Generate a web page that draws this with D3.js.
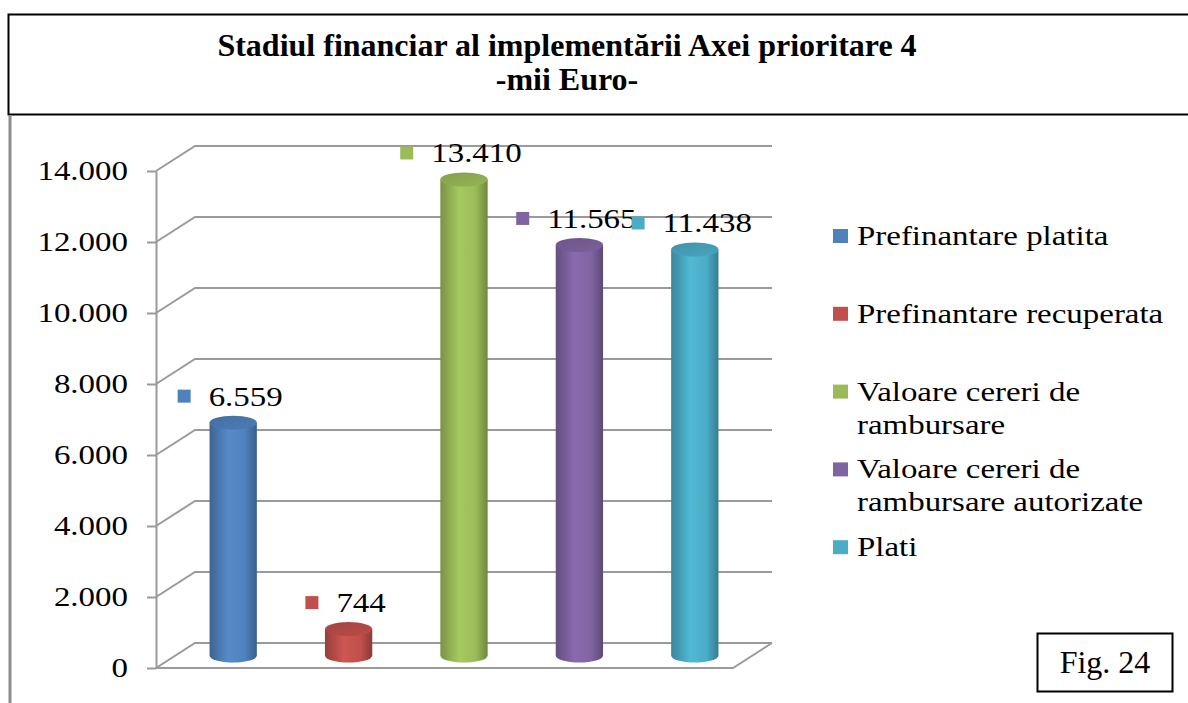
<!DOCTYPE html>
<html>
<head>
<meta charset="utf-8">
<script src="https://cdn.jsdelivr.net/npm/d3@7"></script>
<style>
	body { margin: 0; background: #fff; }
	text { font-family: "Liberation Serif", "Times New Roman", serif; fill: #000; }
	.grid { fill: none; stroke: #9a9a9a; stroke-width: 2; }
	.axis path, .axis line { stroke: #9a9a9a; stroke-width: 2; }
</style>
</head>
<body>
<svg id="chart" width="1188" height="703"></svg>
<script>
// date grafic
var categories = ["Prefinantare platita", "Prefinantare recuperata", "Valoare cereri de rambursare", "Valoare cereri de rambursare autorizate", "Plati"];
var legendLines = [["Prefinantare platita"], ["Prefinantare recuperata"], ["Valoare cereri de", "rambursare"], ["Valoare cereri de", "rambursare autorizate"], ["Plati"]];
var values = [6559, 744, 13410, 11565, 11438];
var colors = ["#4F81BD", "#C0504D", "#9BBB59", "#8064A2", "#4BACC6"];
var yTicks = [0, 2000, 4000, 6000, 8000, 10000, 12000, 14000];
var titleLines = ["Stadiul financiar al implementării Axei prioritare 4", "-mii Euro-"];
var figLabel = "Fig. 24";

var loc = d3.formatLocale({decimal: ",", thousands: ".", grouping: [3], currency: ["", ""]});
var fmt = loc.format(",d");

var svg = d3.select("#chart");
var sx = 1.22;          // textul din grafic e putin latit pe orizontala
var depthX = 39, depthY = -25;

var plotLeft = 156, plotRight = 733, plotBottom = 668, plotTop = 171;

var xScale = d3.scaleBand()
				.domain(categories)
				.range([plotLeft, plotRight]);

var yScale = d3.scaleLinear()
				.domain([0, 14000])
				.range([plotBottom, plotTop]);

// rama + titlu
svg.append("rect")
	.attr("x", 8.5).attr("y", 14.5)
	.attr("width", 1200).attr("height", 100)
	.attr("fill", "none").attr("stroke", "#000").attr("stroke-width", 2);

svg.append("line")
	.attr("x1", 10).attr("x2", 10)
	.attr("y1", 115).attr("y2", 703)
	.attr("stroke", "#8c8c8c").attr("stroke-width", 3);

svg.selectAll("text.title")
	.data(titleLines)
	.enter().append("text")
	.attr("class", "title")
	.attr("x", 567)
	.attr("y", function(d, i){return 56 + i * 34;})
	.style("text-anchor", "middle")
	.style("font-size", "32px")
	.style("font-weight", "bold")
	.text(function(d){return d;});

// perete spate + podea
var svgG = svg.append("g");

svgG.selectAll("path.grid")
	.data(yTicks)
	.enter().append("path")
	.attr("class", "grid")
	.attr("d", function(d){
		var y = yScale(d);
		return "M" + plotLeft + "," + y + "L" + (plotLeft + depthX) + "," + (y + depthY) + "L" + (plotRight + depthX) + "," + (y + depthY);
	});

svgG.append("path")
	.attr("class", "grid")
	.attr("d", "M" + plotLeft + "," + yScale(0) + "L" + plotRight + "," + yScale(0) + "L" + (plotRight + depthX) + "," + (yScale(0) + depthY));

// axa Y
var axis = svgG.append("g")
	.attr("class", "axis")
	.attr("transform", "translate(" + plotLeft + ",0)")
	.call(d3.axisLeft(yScale).tickValues(yTicks).tickFormat(fmt).tickSize(9).tickSizeOuter(0));

axis.selectAll("text")
	.style("font-size", "27px")
	.attr("x", -28 / sx)
	.attr("transform", "scale(" + sx + ",1)");

// cilindri
var defs = svg.append("defs");
colors.forEach(function(c, i){
	var base = d3.color(c);
	var g = defs.append("linearGradient").attr("id", "body" + i).attr("x1", 0).attr("x2", 1).attr("y1", 0).attr("y2", 0);
	g.append("stop").attr("offset", "0%").attr("stop-color", base.darker(0.7));
	g.append("stop").attr("offset", "40%").attr("stop-color", base.brighter(0.2));
	g.append("stop").attr("offset", "75%").attr("stop-color", base);
	g.append("stop").attr("offset", "100%").attr("stop-color", base.darker(0.9));
	var t = defs.append("linearGradient").attr("id", "top" + i).attr("x1", 0).attr("x2", 1).attr("y1", 0).attr("y2", 1);
	t.append("stop").attr("offset", "0%").attr("stop-color", base.darker(0.45));
	t.append("stop").attr("offset", "100%").attr("stop-color", base.darker(0.1));
});

var bw = xScale.bandwidth() * 0.41;
var rx = bw / 2, ry = 7;
var dataset = categories.map(function(d, i){return {cat: d, value: values[i], i: i};});

function cx(d){return xScale(d.cat) + xScale.bandwidth() / 2 + depthX / 2;}
function cy(v){return yScale(v) + depthY / 2;}

var bars = svgG.selectAll("g.bar")
	.data(dataset)
	.enter().append("g")
	.attr("class", "bar");

bars.append("path")
	.attr("fill", function(d){return "url(#body" + d.i + ")";})
	.attr("d", function(d){
		var x = cx(d), yt = cy(d.value), yb = cy(0);
		return "M" + (x - rx) + "," + yt + "L" + (x - rx) + "," + yb +
			"A" + rx + "," + ry + " 0 0 0 " + (x + rx) + "," + yb +
			"L" + (x + rx) + "," + yt + "Z";
	});

bars.append("ellipse")
	.attr("cx", cx)
	.attr("cy", function(d){return cy(d.value);})
	.attr("rx", rx).attr("ry", ry)
	.attr("fill", function(d){return "url(#top" + d.i + ")";});

// etichete valori
var lab = svgG.selectAll("g.lab")
	.data(dataset)
	.enter().append("g")
	.attr("class", "lab");

lab.append("text")
	.style("font-size", "27px")
	.attr("transform", "scale(" + sx + ",1)")
	.text(function(d){return fmt(d.value);});

lab.each(function(d){
	var g = d3.select(this);
	var w = g.select("text").node().getComputedTextLength() * sx;
	var total = 13 + 18 + w;
	var x0 = cx(d) - total / 2 - 3;
	var yb = cy(d.value) - 17;
	g.select("text").attr("x", (x0 + 31) / sx).attr("y", yb);
	g.append("rect")
		.attr("x", x0).attr("y", yb - 16)
		.attr("width", 13).attr("height", 13)
		.attr("fill", colors[d.i]);
});

// legenda
var leg = svg.selectAll("g.leg")
	.data(legendLines)
	.enter().append("g")
	.attr("class", "leg")
	.attr("transform", function(d, i){return "translate(833," + (236 + i * 77.8) + ")";});

leg.append("rect")
	.attr("x", 0).attr("y", -7)
	.attr("width", 15).attr("height", 14)
	.attr("fill", function(d, i){return colors[i];});

leg.each(function(lines){
	var g = d3.select(this);
	lines.forEach(function(s, j){
		g.append("text")
			.attr("x", 24 / sx)
			.attr("y", 9 + j * 33)
			.attr("transform", "scale(" + sx + ",1)")
			.style("font-size", "27px")
			.text(s);
	});
});

// caseta Fig.
svg.append("rect")
	.attr("x", 1037.5).attr("y", 633.5)
	.attr("width", 135).attr("height", 58)
	.attr("fill", "#fff").attr("stroke", "#000").attr("stroke-width", 2);

svg.append("text")
	.attr("x", 1105).attr("y", 673)
	.style("text-anchor", "middle")
	.style("font-size", "32px")
	.text(figLabel);
</script>
</body>
</html>
